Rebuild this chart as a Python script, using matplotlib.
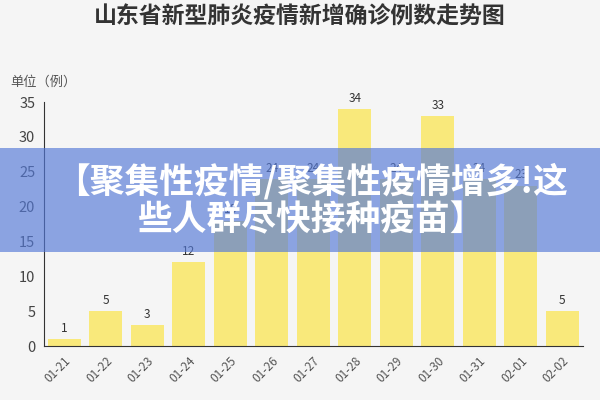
import matplotlib
matplotlib.use("Agg")
import matplotlib.pyplot as plt
from matplotlib.patches import Rectangle

plt.rcParams['font.family'] = ['Noto Sans CJK SC', 'DejaVu Sans']

dates = ['01-21', '01-22', '01-23', '01-24', '01-25', '01-26', '01-27',
         '01-28', '01-29', '01-30', '01-31', '02-01', '02-02']
cases = [1, 5, 3, 12, 18, 24, 24, 34, 24, 33, 24, 23, 5]
yticks = [0, 5, 10, 15, 20, 25, 30, 35]

title = '山东省新型肺炎疫情新增确诊例数走势图'
unit = '单位（例）'
banner = '【聚集性疫情/聚集性疫情增多!这\n些人群尽快接种疫苗】'

bg = '#f5f5f5'
fig = plt.figure(figsize=(6, 4), dpi=100, facecolor=bg)
ax = fig.add_axes([0.0725, 0.135, 0.899, 0.61], facecolor=bg)

x = range(len(dates))
ax.bar(x, cases, width=0.8, color='#f9e97b', zorder=2)
for xi, v in zip(x, cases):
    ax.text(xi, v + 0.6, str(v), ha='center', va='bottom', fontsize=8.5, color='#333333')

ax.set_xlim(-0.5, len(dates) - 0.5)
ax.set_ylim(0, 35)
ax.set_yticks(yticks)
ax.set_xticks(list(x))
ax.set_xticklabels(dates, rotation=45, ha='right', rotation_mode='anchor',
                   fontsize=8.5, color='#555555')
ax.tick_params(axis='y', length=0, labelsize=10.5, labelcolor='#444444', pad=6)
ax.tick_params(axis='x', length=0, pad=6)
for s in ['top', 'right']:
    ax.spines[s].set_visible(False)
ax.spines['left'].set_color('#333333')
ax.spines['bottom'].set_color('#333333')

fig.text(0.5, 0.957, title, ha='center', va='center', fontsize=16.5,
         fontweight='heavy', color='#333333')
fig.text(0.017, 0.795, unit, ha='left', va='center', fontsize=9.5, color='#555555')

fig.add_artist(Rectangle((0, 0.37), 1, 0.26, transform=fig.transFigure,
                         facecolor='#5479d8', alpha=0.66, edgecolor='none', zorder=5))
fig.text(0.52, 0.5, banner, ha='center', va='center', fontsize=25,
         fontweight='heavy', color='white', linespacing=1.1, zorder=6)

fig.savefig('out.png', dpi=100, facecolor=bg)
